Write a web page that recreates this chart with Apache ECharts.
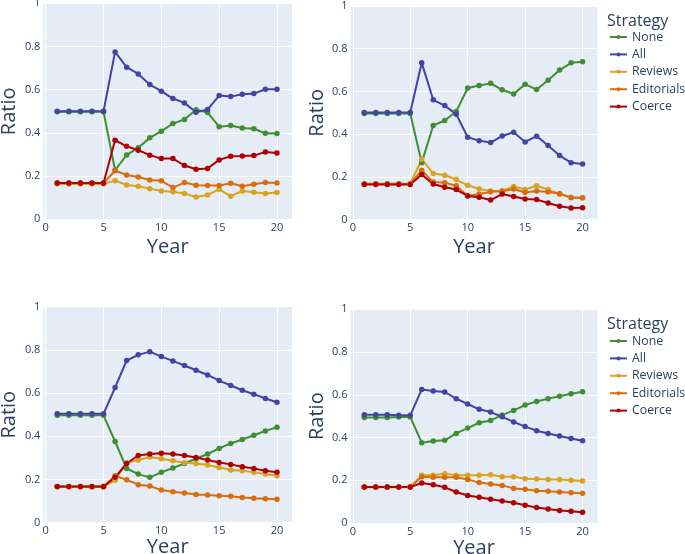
<!DOCTYPE html>
<html>
<head>
<meta charset="utf-8">
<script src="https://cdn.jsdelivr.net/npm/echarts@6/dist/echarts.min.js"></script>
<style>
html,body{margin:0;padding:0;background:#fff;}
#chart{width:685px;height:554px;}
</style>
</head>
<body>
<div id="chart"></div>
<script>
const years = [1,2,3,4,5,6,7,8,9,10,11,12,13,14,15,16,17,18,19,20];
const strategies = ['None','All','Reviews','Editorials','Coerce'];
const xTicks = [0,5,10,15,20];

// Panel 1 (top-left)
const p1None = [0.498,0.498,0.498,0.498,0.498,0.227,0.298,0.331,0.377,0.408,0.443,0.462,0.507,0.494,0.429,0.434,0.423,0.419,0.398,0.397];
const p1All = [0.500,0.500,0.500,0.500,0.500,0.775,0.704,0.673,0.624,0.593,0.559,0.539,0.496,0.508,0.573,0.568,0.579,0.582,0.602,0.602];
const p1Reviews = [0.164,0.164,0.164,0.164,0.164,0.179,0.159,0.153,0.142,0.131,0.128,0.119,0.103,0.113,0.139,0.107,0.131,0.125,0.119,0.124];
const p1Editorials = [0.168,0.168,0.168,0.168,0.168,0.225,0.205,0.196,0.182,0.178,0.147,0.170,0.158,0.156,0.156,0.167,0.153,0.162,0.170,0.168];
const p1Coerce = [0.168,0.168,0.168,0.168,0.168,0.366,0.338,0.320,0.297,0.281,0.281,0.249,0.232,0.235,0.275,0.292,0.293,0.295,0.312,0.307];

// Panel 2 (top-right)
const p2None = [0.497,0.497,0.497,0.497,0.497,0.267,0.441,0.464,0.506,0.616,0.628,0.638,0.608,0.588,0.634,0.609,0.653,0.700,0.734,0.739];
const p2All = [0.502,0.502,0.502,0.502,0.502,0.734,0.561,0.534,0.494,0.386,0.370,0.361,0.392,0.409,0.364,0.391,0.347,0.300,0.267,0.261];
const p2Reviews = [0.167,0.167,0.167,0.167,0.167,0.283,0.216,0.208,0.188,0.161,0.144,0.134,0.136,0.155,0.141,0.159,0.141,0.119,0.105,0.102];
const p2Editorials = [0.168,0.168,0.168,0.168,0.168,0.231,0.177,0.173,0.159,0.112,0.119,0.131,0.133,0.144,0.127,0.134,0.130,0.123,0.103,0.103];
const p2Coerce = [0.165,0.165,0.165,0.165,0.165,0.211,0.167,0.152,0.141,0.111,0.105,0.092,0.120,0.109,0.097,0.094,0.078,0.063,0.055,0.056];

// Panel 3 (bottom-left)
const p3None = [0.497,0.497,0.497,0.497,0.497,0.376,0.251,0.225,0.210,0.233,0.253,0.274,0.296,0.318,0.344,0.367,0.385,0.405,0.425,0.442];
const p3All = [0.504,0.504,0.504,0.504,0.504,0.626,0.751,0.777,0.792,0.769,0.749,0.728,0.706,0.684,0.658,0.635,0.613,0.595,0.575,0.558];
const p3Reviews = [0.167,0.167,0.167,0.167,0.167,0.197,0.277,0.290,0.304,0.296,0.287,0.277,0.274,0.267,0.256,0.244,0.240,0.233,0.225,0.217];
const p3Editorials = [0.167,0.167,0.167,0.167,0.167,0.217,0.199,0.176,0.170,0.151,0.143,0.137,0.131,0.128,0.125,0.122,0.117,0.113,0.111,0.108];
const p3Coerce = [0.168,0.168,0.168,0.168,0.168,0.210,0.274,0.311,0.318,0.321,0.318,0.311,0.302,0.290,0.279,0.270,0.259,0.251,0.240,0.234];

// Panel 4 (bottom-right)
const p4None = [0.494,0.494,0.494,0.496,0.496,0.376,0.384,0.387,0.419,0.444,0.469,0.480,0.505,0.527,0.552,0.569,0.582,0.593,0.605,0.614];
const p4All = [0.506,0.506,0.506,0.504,0.504,0.625,0.618,0.613,0.582,0.557,0.532,0.519,0.497,0.473,0.451,0.432,0.419,0.407,0.395,0.385];
const p4Reviews = [0.167,0.167,0.167,0.167,0.167,0.223,0.223,0.231,0.223,0.223,0.223,0.226,0.217,0.217,0.207,0.206,0.204,0.203,0.200,0.196];
const p4Editorials = [0.168,0.168,0.168,0.168,0.168,0.217,0.214,0.214,0.214,0.204,0.189,0.182,0.176,0.162,0.158,0.151,0.148,0.145,0.142,0.139];
const p4Coerce = [0.168,0.168,0.168,0.168,0.168,0.187,0.179,0.167,0.145,0.129,0.120,0.111,0.103,0.095,0.083,0.072,0.065,0.059,0.055,0.050];

const panels = [
  [p1None,p1All,p1Reviews,p1Editorials,p1Coerce],
  [p2None,p2All,p2Reviews,p2Editorials,p2Coerce],
  [p3None,p3All,p3Reviews,p3Editorials,p3Coerce],
  [p4None,p4All,p4Reviews,p4Editorials,p4Coerce]
];

const colors = ['#3d8f32','#4343a6','#d9a21f','#d96d0c','#b00000'];
const FONT = "'Open Sans', sans-serif";
const TXT = '#2a3f5f';

const grids = [
  {left:43.4, top:3.3, width:248.6, height:216},
  {left:350.5, top:6, width:247, height:213.7},
  {left:43.4, top:306.7, width:248.6, height:216},
  {left:350.5, top:309.3, width:247, height:213.7}
];

const xAxes = grids.map((g,i)=>({
  type:'value', gridIndex:i, min:-0.2, max:21.3,
  name:'Year', nameLocation:'middle', nameGap: i<2 ? 17.5 : 14.5,
  nameTextStyle:{fontFamily:FONT, fontSize:20, color:TXT},
  axisLine:{show:false}, axisTick:{show:false, customValues:xTicks},
  axisLabel:{customValues:xTicks, fontFamily:FONT, fontSize:11, color:TXT, margin:3},
  splitLine:{show:true, lineStyle:{color:'#ffffff', width:1}}
}));
const yAxes = grids.map((g,i)=>({
  type:'value', gridIndex:i, min:0, max:1, interval:0.2,
  name:'Ratio', nameLocation:'middle', nameGap: i%2===0 ? 24.5 : 23.5,
  nameTextStyle:{fontFamily:FONT, fontSize:20, color:TXT},
  axisLine:{show:false}, axisTick:{show:false},
  axisLabel:{fontFamily:FONT, fontSize:11, color:TXT, margin:3,
    formatter:(v)=>String(Math.round(v*10)/10)},
  splitLine:{show:true, lineStyle:{color:'#ffffff', width:1}}
}));

const series = [];
panels.forEach((arrs,pi)=>{
  arrs.forEach((arr,si)=>{
    series.push({
      name:strategies[si], type:'line', xAxisIndex:pi, yAxisIndex:pi,
      data: years.map((y,k)=>[y, arr[k]]),
      symbol:'circle', symbolSize:5.5, showSymbol:true,
      lineStyle:{width:2, color:colors[si]},
      itemStyle:{color:colors[si]},
      animation:false, silent:true
    });
  });
});

const legendBase = {
  orient:'vertical', left:609, padding:0, itemWidth:17, itemHeight:5, itemGap:3.4,
  data:strategies, selectedMode:false,
  textStyle:{fontFamily:FONT, fontSize:12.3, color:TXT, lineHeight:14}
};

const chart = echarts.init(document.getElementById('chart'), null, {renderer:'canvas'});
chart.setOption({
  backgroundColor:'#ffffff',
  color:colors,
  animation:false,
  grid: grids.map(g=>Object.assign({containLabel:false, outerBoundsMode:'none', backgroundColor:'#e5ecf6', show:true, borderWidth:0}, g)),
  xAxis:xAxes,
  yAxis:yAxes,
  legend:[
    Object.assign({top:30}, legendBase),
    Object.assign({top:334}, legendBase)
  ],
  graphic:[
    {type:'text', left:607, top:13.5, style:{text:'Strategy', fontFamily:FONT, fontSize:16, fill:TXT}},
    {type:'text', left:607, top:316.5, style:{text:'Strategy', fontFamily:FONT, fontSize:16, fill:TXT}}
  ],
  series:series
});
</script>
</body>
</html>
